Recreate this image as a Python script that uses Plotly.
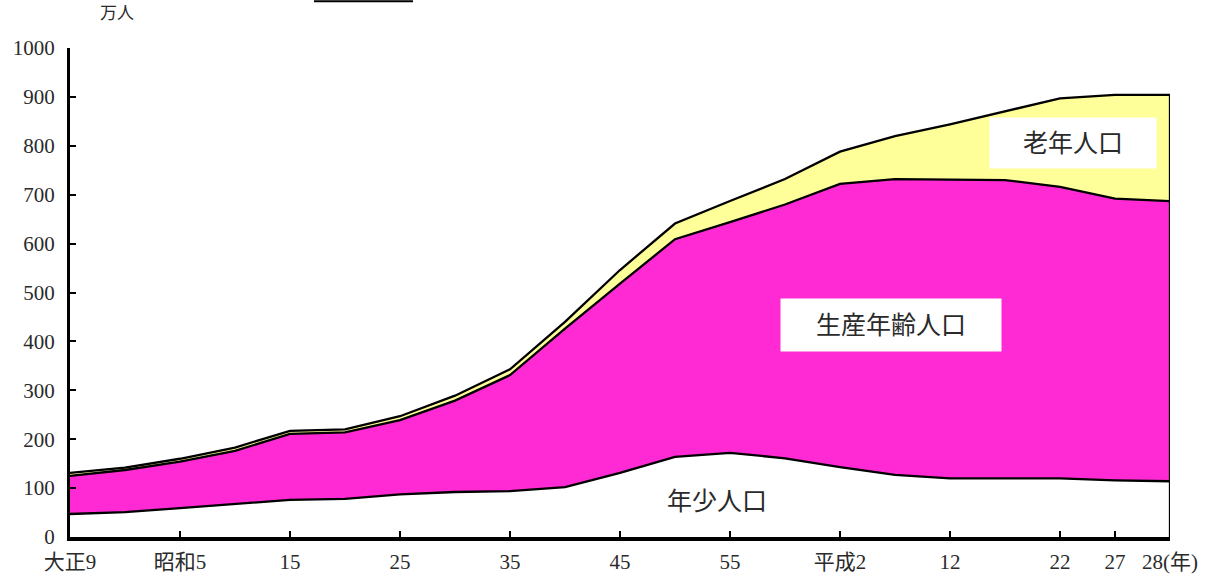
import plotly.graph_objects as go

# 調査年（大正9年〜平成28年）
years = ["大正9", "大正14", "昭和5", "昭和10", "昭和15", "昭和22", "昭和25", "昭和30",
         "昭和35", "昭和40", "昭和45", "昭和50", "昭和55", "昭和60", "平成2", "平成7",
         "平成12", "平成17", "平成22", "平成27", "平成28"]

# 年齢3区分別人口（万人）
young = [47, 51, 59, 67, 76, 78, 87, 92, 94, 102, 131, 164, 172, 161, 143, 127,
         120, 120, 120, 116, 114]
working = [78, 86, 95, 109, 135, 136, 152, 187, 237, 324, 387, 445, 472, 519, 579,
           605, 611, 610, 596, 576, 573]
elderly = [6, 5, 6, 7, 6, 6, 8, 10, 12, 14, 28, 32, 43, 52, 66, 88, 113, 140, 181,
           212, 217]

# 軸目盛
tick_years = ["大正9", "昭和5", "昭和15", "昭和25", "昭和35", "昭和45", "昭和55",
              "平成2", "平成12", "平成22", "平成27", "平成28"]
tick_text = ["大正9", "昭和5", "15", "25", "35", "45", "55", "平成2", "12", "22",
             "27", "28(年)"]
y_ticks = [0, 100, 200, 300, 400, 500, 600, 700, 800, 900, 1000]

FONT = "Liberation Serif, 'Noto Sans CJK JP', serif"
TEXT = "#2a2a2a"
PINK = "#FF2AD4"
YELLOW = "#FFFF99"
edge = dict(color="black", width=2.3)

fig = go.Figure()
fig.add_trace(go.Scatter(x=years, y=young, name="年少人口", stackgroup="pop",
                         mode="lines", line=edge, fillcolor="white"))
fig.add_trace(go.Scatter(x=years, y=working, name="生産年齢人口", stackgroup="pop",
                         mode="lines", line=edge, fillcolor=PINK))
fig.add_trace(go.Scatter(x=years, y=elderly, name="老年人口", stackgroup="pop",
                         mode="lines", line=edge, fillcolor=YELLOW))

# 右端の縁取り
total_last = young[-1] + working[-1] + elderly[-1]
fig.add_trace(go.Scatter(x=[years[-1], years[-1]], y=[0, total_last], mode="lines",
                         line=edge, hoverinfo="skip", showlegend=False))

fig.update_layout(
    width=1211, height=579,
    margin=dict(l=70, r=41, t=48, b=42),
    paper_bgcolor="white", plot_bgcolor="white",
    showlegend=False,
    font=dict(family=FONT, size=21, color=TEXT),
    xaxis=dict(
        type="category", range=[0, len(years) - 1],
        tickmode="array", tickvals=tick_years, ticktext=tick_text,
        showline=True, linecolor="black", linewidth=4,
        ticks="inside", ticklen=6, tickwidth=2, tickcolor="black",
        ticklabelstandoff=3, automargin=False,
        showgrid=False, zeroline=False,
        tickfont=dict(family=FONT, size=21, color=TEXT),
    ),
    yaxis=dict(
        range=[0, 1000], tickvals=y_ticks,
        showline=True, linecolor="black", linewidth=3,
        ticks="inside", ticklen=6, tickwidth=2, tickcolor="black",
        ticklabelstandoff=8, automargin=False,
        showgrid=False, zeroline=False,
        tickfont=dict(family=FONT, size=21, color=TEXT),
    ),
)

# 区分名ラベル
fig.add_annotation(xref="paper", yref="paper", x=0.0427, y=1.071, text="万人",
                   showarrow=False, font=dict(family=FONT, size=17, color=TEXT),
                   xanchor="center", yanchor="middle")
fig.add_annotation(x="平成22", y=805, text="老年人口", showarrow=False,
                   bgcolor="white", width=164, height=48, xshift=13,
                   font=dict(family=FONT, size=25, color=TEXT))
fig.add_annotation(x="平成2", y=433, text="生産年齢人口", showarrow=False,
                   bgcolor="white", width=218, height=50, xshift=51,
                   font=dict(family=FONT, size=25, color=TEXT))
fig.add_annotation(x="昭和55", y=72, text="年少人口", showarrow=False, xshift=-13,
                   font=dict(family=FONT, size=25, color=TEXT))

# 上端の罫線
fig.add_shape(type="line", xref="paper", yref="paper", x0=0.2218, x1=0.3118,
              y0=1.0955, y1=1.0955, line=dict(color="black", width=2))

fig.write_html("out.html")
